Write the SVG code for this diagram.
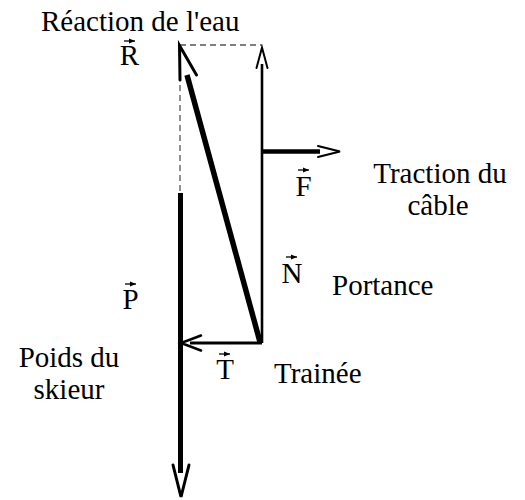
<svg xmlns="http://www.w3.org/2000/svg" width="525" height="500" viewBox="0 0 525 500">
<style>
  .lbl { font-family: "Liberation Serif", "Times New Roman", serif; font-size: 29px; fill: #000; }
  .vec { font-family: "Liberation Serif", "Times New Roman", serif; font-size: 29px; fill: #000; text-anchor: middle; }
  .dash { stroke: #555; stroke-width: 1.3; stroke-dasharray: 6 4; fill: none; }
  .head { stroke: #000; fill: none; stroke-linecap: round; stroke-linejoin: miter; }
  .small { stroke: #000; stroke-width: 1.3; fill: none; }
</style>
<defs>
  <marker id="ah" viewBox="0 0 6 6" refX="6" refY="3" markerWidth="6" markerHeight="6" markerUnits="userSpaceOnUse" orient="auto">
    <path d="M0,0.6 L6,3 L0,5.4 Z" fill="#000"/>
  </marker>
</defs>
<rect width="525" height="500" fill="#fff"/>

<g id="connectors">
  <!-- construction lines -->
  <path class="dash" d="M180,45 H262"/>
  <path class="dash" d="M180,45 V193"/>
  <!-- R -->
  <path d="M260,342 L187,75" stroke="#000" stroke-width="5.5" fill="none"/>
  <path class="head" stroke-width="3" d="M196.5,75 L179.5,45.5 L180,80"/>
  <!-- N -->
  <path d="M262,343 V64" stroke="#000" stroke-width="2.6" fill="none"/>
  <path class="head" stroke-width="2" d="M256.5,68 L262,47.5 L267.5,68"/>
  <!-- F -->
  <path d="M262,151.5 H320" stroke="#000" stroke-width="4.5" fill="none"/>
  <path class="head" stroke-width="2" d="M318,146 L340,151.5 L318,157"/>
  <!-- T -->
  <path d="M262,343 H190" stroke="#000" stroke-width="3" fill="none"/>
  <path class="head" stroke-width="2.5" d="M201,335.5 L181,343 L201,350.5"/>
  <!-- P -->
  <path d="M180.5,193 V473" stroke="#000" stroke-width="5" fill="none"/>
  <path class="head" stroke-width="3" d="M173,465 L181,497 L189,465"/>
</g>

<g id="label-R">
  <path class="small" d="M124,41 H135" marker-end="url(#ah)"/>
  <text class="vec" x="129.5" y="65">R</text>
</g>
<g id="label-F">
  <path class="small" d="M298,170 H309" marker-end="url(#ah)"/>
  <text class="vec" x="303.5" y="196">F</text>
</g>
<g id="label-P">
  <path class="small" d="M125,284 H136" marker-end="url(#ah)"/>
  <text class="vec" x="130.5" y="309">P</text>
</g>
<g id="label-N">
  <path class="small" d="M286,257 H297" marker-end="url(#ah)"/>
  <text class="vec" x="292" y="283">N</text>
</g>
<g id="label-T">
  <path class="small" d="M219,354 H230" marker-end="url(#ah)"/>
  <text class="vec" x="225" y="379">T</text>
</g>

<g id="text-reaction">
  <text class="lbl" x="41" y="31">Réaction de l'eau</text>
</g>
<g id="text-traction">
  <text class="lbl" text-anchor="middle" x="440" y="183">Traction du</text>
  <text class="lbl" text-anchor="middle" x="438" y="215">câble</text>
</g>
<g id="text-portance">
  <text class="lbl" x="332" y="295">Portance</text>
</g>
<g id="text-trainee">
  <text class="lbl" x="274" y="383">Trainée</text>
</g>
<g id="text-poids">
  <text class="lbl" text-anchor="middle" x="69" y="367">Poids du</text>
  <text class="lbl" text-anchor="middle" x="69" y="399">skieur</text>
</g>
</svg>
